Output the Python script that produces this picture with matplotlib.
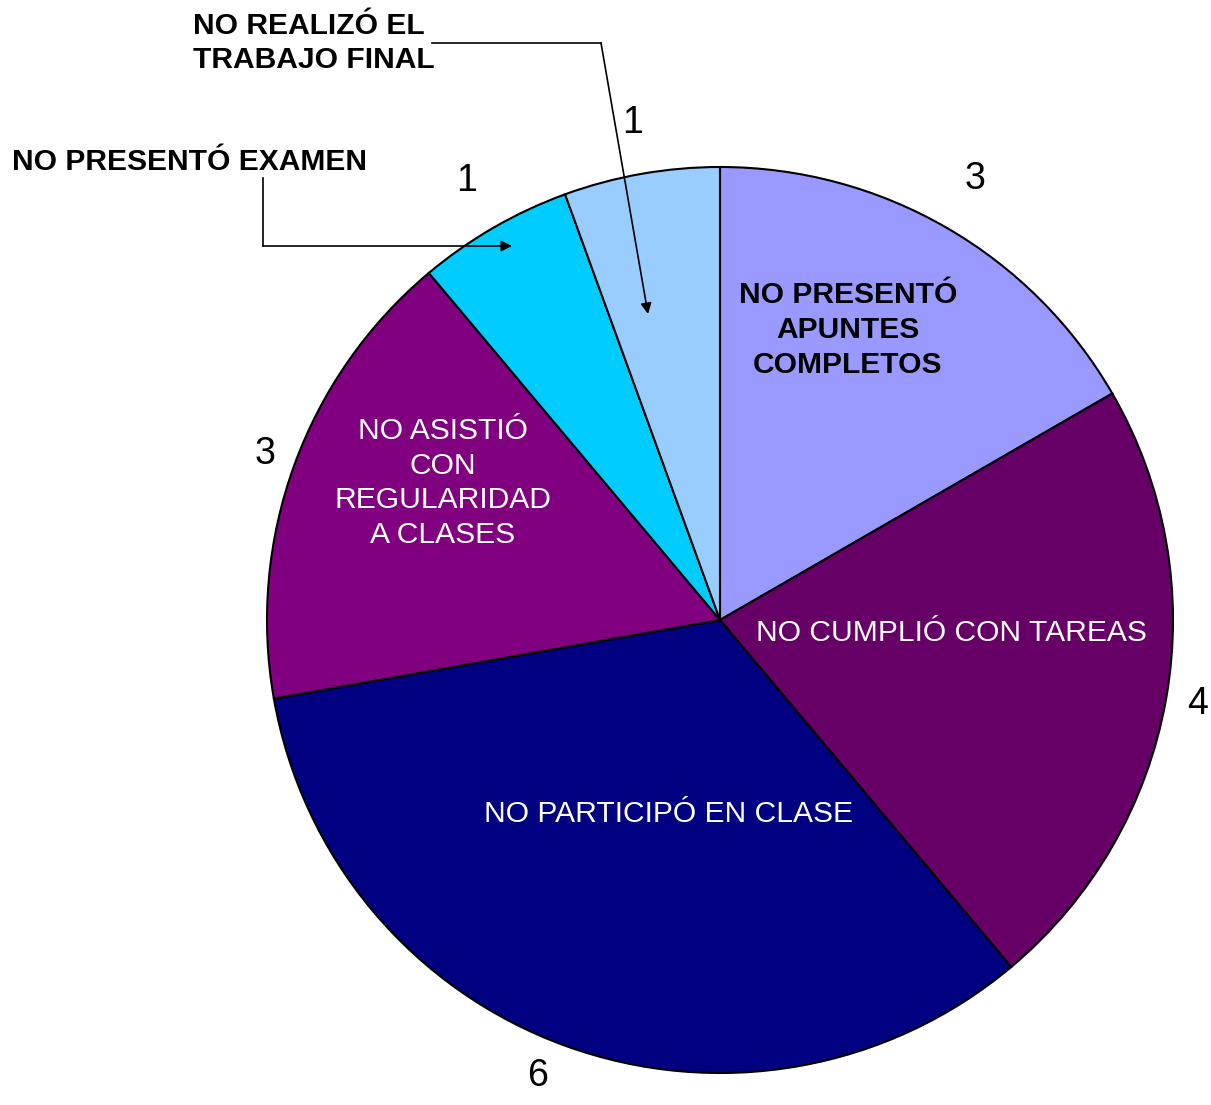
import numpy as np
import matplotlib
matplotlib.use('Agg')
import matplotlib.pyplot as plt

plt.rcParams['font.family'] = ['Liberation Sans', 'DejaVu Sans']

# Data
categorias = ['NO PRESENTÓ APUNTES COMPLETOS', 'NO CUMPLIÓ CON TAREAS',
              'NO PARTICIPÓ EN CLASE', 'NO ASISTIÓ CON REGULARIDAD A CLASES',
              'NO PRESENTÓ EXAMEN', 'NO REALIZÓ EL TRABAJO FINAL']
valores = [3, 4, 6, 3, 1, 1]
colores = ['#9999FF', '#660066', '#000080', '#800080', '#00CCFF', '#99CCFF']

W, H = 1211, 1105
cx, cy, R = 720, 620, 453

def d(px, py):
    # pixel position -> data coordinates (radius = 1)
    return (px - cx) / R, (cy - py) / R

fig = plt.figure(figsize=(W / 100, H / 100), dpi=100)
ax = fig.add_axes([0, 0, 1, 1])

wedges, _ = ax.pie(valores, colors=colores, startangle=90, counterclock=False,
                   radius=1, center=(0, 0),
                   wedgeprops=dict(edgecolor='black', linewidth=1.5))
ax.set_xlim(-cx / R, (W - cx) / R)
ax.set_ylim(-(H - cy) / R, cy / R)
ax.set_aspect('auto')
ax.axis('off')

# value labels outside each slice
dist = [1.125, 1.07, 1.085, 1.07, 1.12, 1.115]
shift = [0, 0, -1.8, 0, 0, 0]
for w, v, r, s in zip(wedges, valores, dist, shift):
    ang = np.deg2rad((w.theta1 + w.theta2) / 2 + s)
    ax.text(r * np.cos(ang), r * np.sin(ang), str(v), fontsize=27,
            ha='center', va='center')

fs = 21.6
ls = 1.3
# category labels
ax.text(*d(848, 330), 'NO PRESENTÓ\nAPUNTES\nCOMPLETOS', fontsize=fs,
        fontweight='bold', ha='center', va='center', linespacing=ls)
ax.text(*d(951, 633), 'NO CUMPLIÓ CON TAREAS', fontsize=fs, color='white',
        ha='center', va='center')
ax.text(*d(669, 814), 'NO PARTICIPÓ EN CLASE', fontsize=fs, color='white',
        ha='center', va='center')
ax.text(*d(443, 483), 'NO ASISTIÓ\nCON\nREGULARIDAD\nA CLASES', fontsize=fs,
        color='white', ha='center', va='center', linespacing=ls)
ax.text(*d(12, 162), 'NO PRESENTÓ EXAMEN', fontsize=fs, fontweight='bold',
        ha='left', va='center')
ax.text(*d(193, 43), 'NO REALIZÓ EL\nTRABAJO FINAL', fontsize=fs,
        fontweight='bold', ha='left', va='center', linespacing=ls)

# leader lines with arrows
x0, y0 = d(263, 178)
x1, y1 = d(263, 246)
ax.plot([x0, x1], [y0, y1], color='black', lw=1.2)
ax.annotate('', xy=d(512, 246), xytext=(x1, y1),
            arrowprops=dict(arrowstyle='-|>', color='black', lw=1.2,
                            mutation_scale=16, shrinkA=0, shrinkB=0))

x0, y0 = d(432, 43)
x1, y1 = d(601, 43)
ax.plot([x0, x1], [y0, y1], color='black', lw=1.2)
ax.annotate('', xy=d(648, 314), xytext=(x1, y1),
            arrowprops=dict(arrowstyle='-|>', color='black', lw=1.2,
                            mutation_scale=16, shrinkA=0, shrinkB=0))

fig.savefig('out.png', dpi=100, facecolor='white')
